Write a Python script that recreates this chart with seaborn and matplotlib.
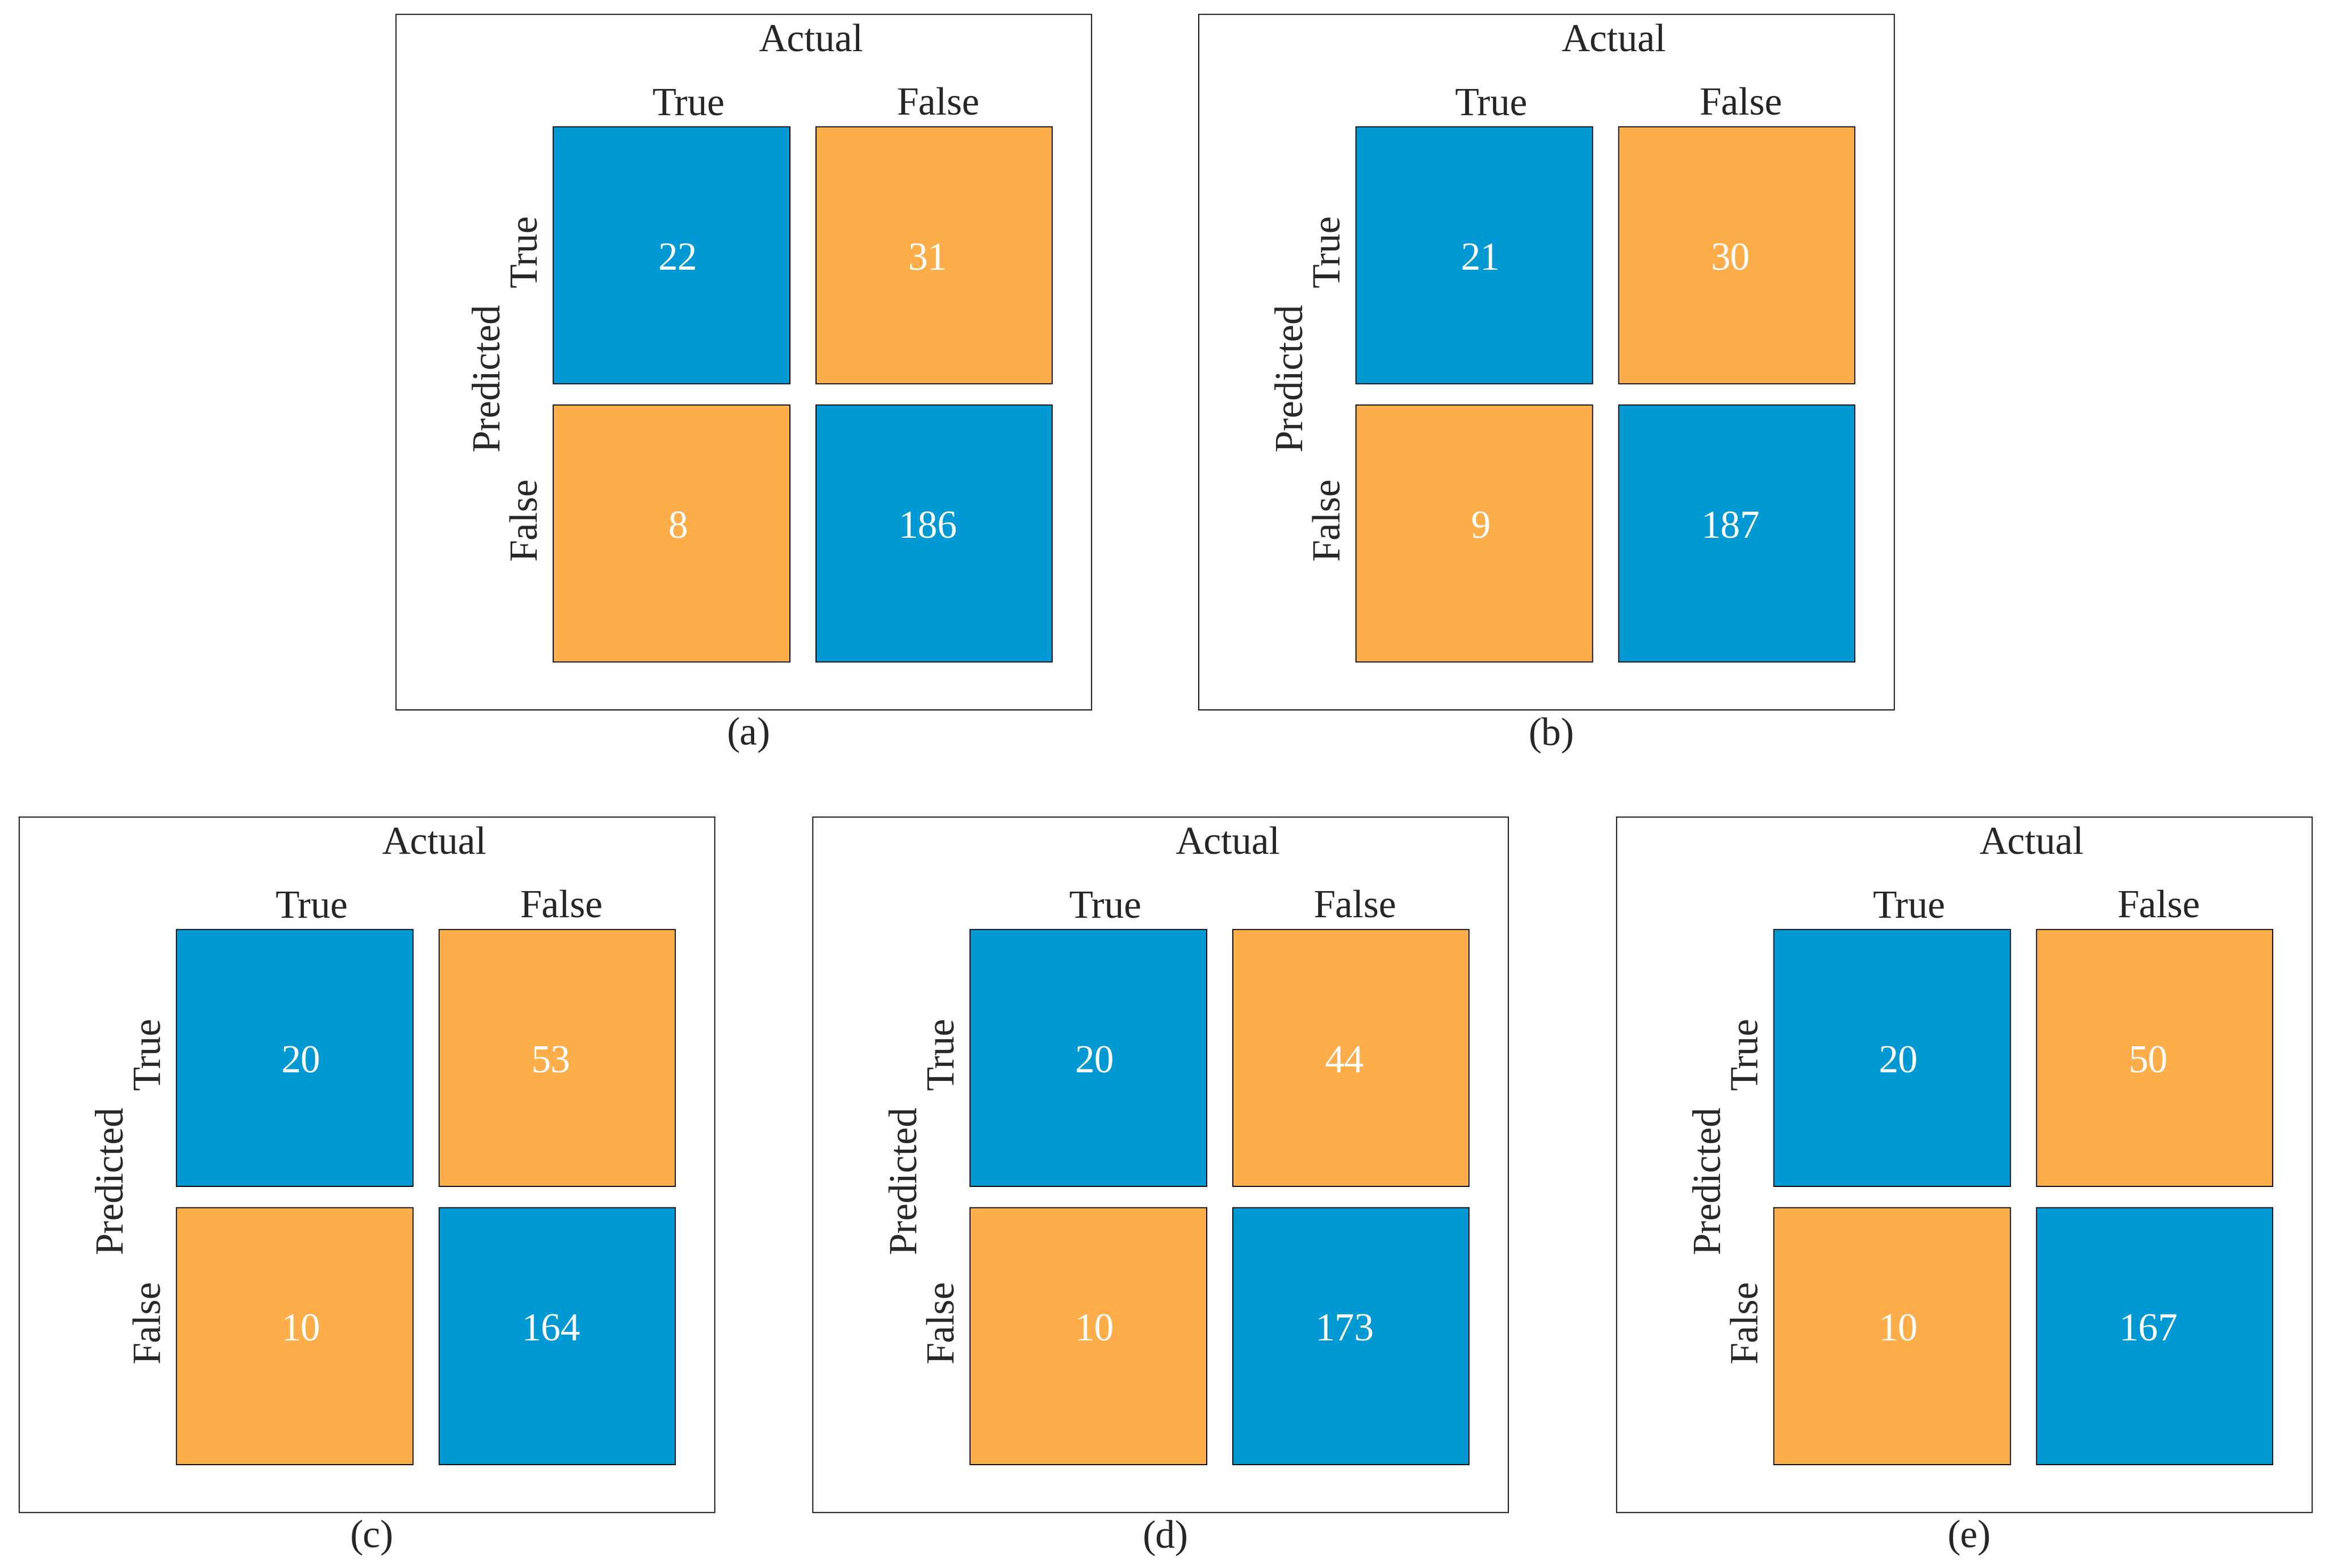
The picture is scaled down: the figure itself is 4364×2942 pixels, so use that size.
import numpy as np
import matplotlib
matplotlib.use("Agg")
import matplotlib.pyplot as plt
from matplotlib.colors import ListedColormap
from matplotlib.transforms import ScaledTranslation
import seaborn as sns

# confusion matrix counts for each model, rows = predicted, cols = actual
panel_labels = ["(a)", "(b)", "(c)", "(d)", "(e)"]
true_pos = [22, 21, 20, 20, 20]
false_pos = [31, 30, 53, 44, 50]
false_neg = [8, 9, 10, 10, 10]
true_neg = [186, 187, 164, 173, 167]
class_names = ["True", "False"]

BLUE = "#0099D3"
ORANGE = "#FDAE4A"

W, H = 4364, 2942
DPI = 100
FS = 53

sns.set_style("white")
plt.rcParams["font.family"] = "serif"
plt.rcParams["font.serif"] = ["Liberation Serif", "DejaVu Serif"]

fig = plt.figure(figsize=(W / DPI, H / DPI), dpi=DPI)

# top-left corner of each panel box, in pixels
box_origin = [(743, 27), (2249, 27), (36, 1533), (1525, 1533), (3033, 1533)]
BOX = 1305


def px_axes(x0, y0, w, h):
    return fig.add_axes([x0 / W, 1 - (y0 + h) / H, w / W, h / H])


def px2pt(p):
    return p * 72 / DPI


for i, (bx, by) in enumerate(box_origin):
    # outer frame
    frame = px_axes(bx, by, BOX, BOX)
    frame.set_xticks([])
    frame.set_yticks([])
    for s in frame.spines.values():
        s.set_visible(True)
        s.set_color("black")
        s.set_linewidth(1.4)

    counts = np.array([[true_pos[i], false_pos[i]], [false_neg[i], true_neg[i]]])
    kind = np.eye(2)  # diagonal = correct prediction

    ax = px_axes(bx + 294, by + 210, 938, 1006)
    sns.heatmap(kind, annot=counts, fmt="d", cmap=ListedColormap([ORANGE, BLUE]),
                cbar=False, ax=ax, linewidths=0,
                xticklabels=class_names, yticklabels=class_names,
                annot_kws={"fontsize": FS, "color": "white"})

    # cell borders, then white gaps between the cells
    border = 2
    for v in (0, 2):
        ax.axvline(v, color="black", lw=px2pt(2 * border))
        ax.axhline(v, color="black", lw=px2pt(2 * border))
    ax.axvline(1, color="black", lw=px2pt(47 + 2 * border))
    ax.axhline(1, color="black", lw=px2pt(38 + 2 * border))
    ax.axvline(1, color="white", lw=px2pt(47))
    ax.axhline(1, color="white", lw=px2pt(38))
    for s in ax.spines.values():
        s.set_visible(False)

    ax.xaxis.tick_top()
    ax.tick_params(axis="x", length=0, pad=4.3, labelsize=FS)
    ax.tick_params(axis="y", length=0, pad=10.8, labelsize=FS)
    for lab in ax.get_xticklabels():
        lab.set_transform(lab.get_transform() + ScaledTranslation(0.2, 0, fig.dpi_scale_trans))
    for lab in ax.get_yticklabels():
        lab.set_rotation(90)
        lab.set_va("center")
        lab.set_transform(lab.get_transform() + ScaledTranslation(0, 0.18, fig.dpi_scale_trans))

    ax.set_xlabel("Actual", fontsize=FS)
    ax.xaxis.set_label_position("top")
    ax.xaxis.label.set_va("bottom")
    ax.xaxis.set_label_coords(0.516, 1.1233)
    ax.set_ylabel("Predicted", fontsize=FS)
    ax.yaxis.set_label_coords(-0.0917, 0.533)

    fig.text((bx + BOX / 2 + 9) / W, 1 - (1397 + by - 27) / H,
             panel_labels[i], ha="center", va="baseline", fontsize=FS)

fig.savefig("out.png", dpi=DPI)
